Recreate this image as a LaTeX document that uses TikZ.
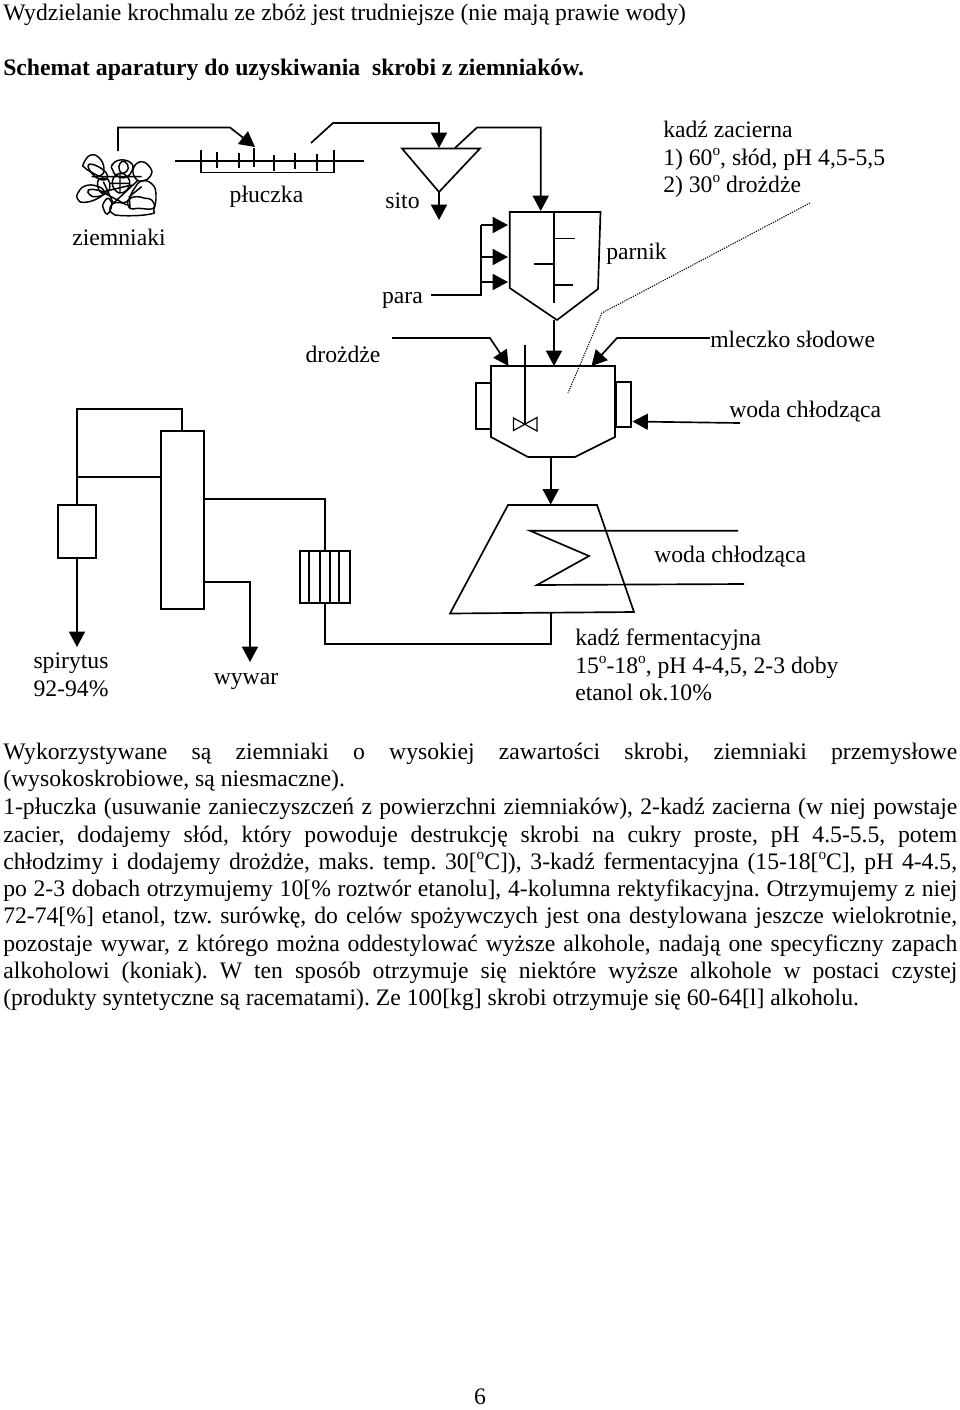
\documentclass[tikz,border=0pt]{standalone}
\usepackage{fontspec}
\setmainfont{Liberation Serif}
\usetikzlibrary{arrows.meta}
\frenchspacing
\newcommand{\stp}{\raisebox{0.42em}{\fontsize{11.5pt}{11.5pt}\selectfont o}}
\newcommand{\jl}[1]{\hbox to 715.5pt{#1}}
\tikzset{
  ln/.style={line width=1.25pt,line join=miter},
  flow/.style={ln,-{Triangle[length=11.5pt,width=12pt]}},
  lbl/.style={anchor=base,inner sep=0pt,font=\fontsize{17.75pt}{21pt}\selectfont},
  lblw/.style={anchor=base west,inner sep=0pt,font=\fontsize{17.75pt}{21pt}\selectfont},
  scribble/.style={line width=1.1pt,smooth cycle,tension=0.8},
  dots/.style={line width=0.8pt,dash pattern=on 0.9pt off 0.9pt}
}
\begin{document}
\begin{tikzpicture}[x=0.75pt,y=-0.75pt]
\useasboundingbox (0,0) rectangle (960,1410);
% heading
\node[lblw] (t1) at (3,20) {Wydzielanie krochmalu ze zbóż jest trudniejsze (nie mają prawie wody)};
\node[lblw,font=\fontsize{17.75pt}{21pt}\selectfont\bfseries] (t2) at (3,75) {Schemat aparatury do uzyskiwania\ \ skrobi z ziemniaków.};
% potatoes
\begin{scope}[shift={(70,140)},x=0.25pt,y=-0.25pt]
\draw[scribble] plot coordinates {(40,72)(60,46)(87,53)(102,85)(92,107)(65,97)(43,82)};
\draw[scribble] plot coordinates {(55,75)(85,80)(112,105)(100,120)(70,105)};
\draw[scribble] plot coordinates {(126,75)(150,60)(182,68)(187,90)(167,112)(140,107)(128,90)};
\draw[scribble] plot coordinates {(150,70)(165,65)(175,85)(160,100)(148,90)};
\draw[scribble] plot coordinates {(190,85)(215,65)(242,85)(242,107)(222,122)(198,117)};
\draw[scribble] plot coordinates {(23,160)(45,138)(80,138)(102,155)(80,177)(40,187)(23,177)};
\draw[scribble] plot coordinates {(55,150)(80,150)(105,160)(80,170)(60,165)};
\draw[scribble] plot coordinates {(123,217)(160,227)(242,222)(252,207)(258,165)(247,133)(215,123)(190,150)(170,185)(130,190)};
\draw[scribble] plot coordinates {(175,180)(200,170)(225,175)(245,180)(250,205)(205,205)(180,205)};
\draw[scribble] plot coordinates {(100,190)(115,175)(125,195)(112,222)(100,205)};
\draw[scribble] plot coordinates {(85,120)(115,120)(115,155)(90,155)};
\draw[scribble] plot coordinates {(128,120)(148,100)(172,110)(178,135)(160,158)(135,150)};
\draw[line width=1.1pt] (65,110)--(215,110) (100,155)--(185,135) (130,190)--(205,120) (100,125)--(130,190) (150,100)--(150,160) (120,130)--(178,130) (105,160)--(170,195) (180,205)--(178,170)--(215,140);
\end{scope}
% named ends
\coordinate (potOut) at (118,151);
\coordinate (potB1) at (118,127.5);
\coordinate (potB2) at (230,127.5);
\coordinate (plIn) at (255,147);
\coordinate (plOut) at (311,143);
\coordinate (plB1) at (333,123);
\coordinate (plB2) at (439,123);
\coordinate (sitoTop) at (439,148);
\coordinate (sitoTip) at (439,192);
\coordinate (sitoOut) at (439,220);
\coordinate (siOut) at (455,148);
\coordinate (siB1) at (477,127.5);
\coordinate (siB2) at (540.7,127.5);
\coordinate (parTop) at (540.7,211);
% pluczka
\draw[ln] (175,161)--(364,161);
\draw[ln] (201,150)--(201,172.5)--(334,172.5)--(334,150);
\foreach \x/\a/\b in {217/152/168,239/153/168,254/148/167,274/155/171,295/153/169,317/154/171}
  \draw[ln] (\x,\a)--(\x,\b);
\draw[flow] (potOut)--(potB1)--(potB2)--(plIn);
\draw[flow] (plOut)--(plB1)--(plB2)--(sitoTop);
% sito
\draw[ln] (402,148.5)--(480,148.5)--(sitoTip)--cycle;
\draw[flow] (sitoTip)--(sitoOut);
\draw[flow] (siOut)--(siB1)--(siB2)--(parTop);
% parnik
\draw[ln] (509.7,212)--(600.5,212)--(598,289)--(557,320)--(509.7,288)--cycle;
\draw[ln] (554,212)--(554,303);
\draw[ln] (554,238.5)--(574.7,238.5) (534,264)--(554,264) (554,285)--(573,285);
% para
\coordinate (paraS) at (431,295);
\coordinate (paraB) at (481,295);
\coordinate (p1) at (481,225); \coordinate (p1e) at (508,225);
\coordinate (p2) at (481,257); \coordinate (p2e) at (508,257);
\coordinate (p3) at (481,282); \coordinate (p3e) at (508,282);
\draw[ln] (paraS)--(paraB)--(p1);
\draw[flow] (p1)--(p1e);
\draw[flow] (p2)--(p2e);
\draw[flow] (p3)--(p3e);
% fermenter feed
\coordinate (parOut) at (554,320);
\coordinate (kzIn) at (554,366);
\draw[flow] (parOut)--(kzIn);
\coordinate (drS) at (392,338); \coordinate (drB) at (490,338); \coordinate (drE) at (508.5,366);
\draw[flow] (drS)--(drB)--(drE);
\coordinate (mlS) at (710,338); \coordinate (mlB) at (617,338); \coordinate (mlE) at (591.5,366);
\draw[flow] (mlS)--(mlB)--(mlE);
% dotted leader
\coordinate (lead1) at (810,203); \coordinate (lead2) at (602,313); \coordinate (lead3) at (568,393);
\draw[dots] (lead1)--(lead2)--(lead3);
% kadz zacierna
\draw[ln] (491,366)--(615,366)--(615,437)--(575,457)--(528,457)--(491,437)--cycle;
\draw[ln] (491,383)--(475.7,383)--(475.7,429)--(491,429);
\draw[ln] (616,382)--(631,382)--(631,427)--(616,427)--cycle;
\draw[ln] (525,345)--(525,424);
\draw[line width=0.9pt] (513.5,418)--(537,431)--(537,417.5)--(513.5,430.5)--cycle;
\coordinate (wS) at (740,423); \coordinate (wE) at (632.5,421.5);
\draw[flow] (wS)--(wE);
\coordinate (kzOut) at (550.7,457); \coordinate (kfIn) at (550.7,504.5);
\draw[flow] (kzOut)--(kfIn);
% kadz fermentacyjna
\draw[ln] (508,505)--(597,505)--(634,612)--(450,613.5)--cycle;
\draw[ln] (738,530.7)--(530,530.7)--(589,556)--(537,585)--(744,584);
% transfer
\coordinate (kfOut) at (550.7,613);
\coordinate (tr1) at (550.7,644);
\coordinate (tr2) at (324.7,644);
\coordinate (hxB) at (324.7,603);
\draw[ln] (kfOut)--(tr1)--(tr2)--(hxB);
% heat exchanger
\draw[ln] (300,551) rectangle (350,602.7);
\foreach \x in {309.3,320.3,329.7,339.3} \draw[ln] (\x,551)--(\x,603.5);
% column
\draw[ln] (160.7,430.7) rectangle (203.7,609.3);
\coordinate (hxT) at (324.7,551);
\coordinate (colR) at (203.7,499.3);
\coordinate (colRb) at (324.7,499.3);
\draw[ln] (colR)--(colRb)--(hxT);
\coordinate (colT) at (181.7,430.7); \coordinate (lpR) at (181.7,408.7); \coordinate (lpL) at (77,408.7);
\coordinate (cdT) at (77,505.3); \coordinate (brL) at (77,476.7); \coordinate (brR) at (160.7,476.7);
\draw[ln] (colT)--(lpR)--(lpL)--(cdT);
\draw[ln] (brL)--(brR);
\draw[ln] (58.3,505.3) rectangle (95.7,558);
\coordinate (cdB) at (77,558); \coordinate (spE) at (77,647);
\draw[flow] (cdB)--(spE);
\coordinate (wy1) at (203.7,582.3); \coordinate (wy2) at (250,582.3); \coordinate (wyE) at (250,662);
\draw[flow] (wy1)--(wy2)--(wyE);
% diagram labels
\node[lbl] (lz) at (119,245) {ziemniaki};
\node[lbl] (lp) at (266.5,202) {płuczka};
\node[lbl] (ls) at (402.5,208) {sito};
\node[lbl] (lpa) at (402.5,303) {para};
\node[lbl] (ld) at (343,362) {drożdże};
\node[lblw] (lpk) at (606,259) {parnik};
\node[lblw] (kz1) at (663,137) {kadź zacierna};
\node[lblw] (kz2) at (663,165) {1) 60\stp, słód, pH 4,5-5,5};
\node[lblw] (kz3) at (663,192) {2) 30\stp\ drożdże};
\node[lblw] (lm) at (710,347) {mleczko słodowe};
\node[lblw] (lw1) at (729,417) {woda chłodząca};
\node[lblw] (lw2) at (654,562) {woda chłodząca};
\node[lbl] (lsp) at (71,668) {spirytus};
\node[lbl] (lsp2) at (71,696) {92-94\%};
\node[lbl] (lwy) at (246,684) {wywar};
\node[lblw] (kf1) at (575,645) {kadź fermentacyjna};
\node[lblw] (kf2) at (575,673) {15\stp-18\stp, pH 4-4,5, 2-3 doby};
\node[lblw] (kf3) at (575,700) {etanol ok.10\%};
% body
\node[lblw] (b1) at (3,759) {\jl{Wykorzystywane są ziemniaki o wysokiej zawartości skrobi, ziemniaki przemysłowe}};
\node[lblw] (b2) at (3,786.3) {(wysokoskrobiowe, są niesmaczne).};
\node[lblw] (b3) at (3,814) {\jl{1-płuczka (usuwanie zanieczyszczeń z powierzchni ziemniaków), 2-kadź zacierna (w niej powstaje}};
\node[lblw] (b4) at (3,842) {\jl{zacier, dodajemy słód, który powoduje destrukcję skrobi na cukry proste, pH 4.5-5.5, potem}};
\node[lblw] (b5) at (3,869) {\jl{chłodzimy i dodajemy drożdże, maks. temp. 30[\stp C]), 3-kadź fermentacyjna (15-18[\stp C], pH 4-4.5,}};
\node[lblw] (b6) at (3,896.5) {\jl{po 2-3 dobach otrzymujemy 10[\% roztwór etanolu], 4-kolumna rektyfikacyjna. Otrzymujemy z niej}};
\node[lblw] (b7) at (3,923.5) {\jl{72-74[\%] etanol, tzw. surówkę, do celów spożywczych jest ona destylowana jeszcze wielokrotnie,}};
\node[lblw] (b8) at (3,951) {\jl{pozostaje wywar, z którego można oddestylować wyższe alkohole, nadają one specyficzny zapach}};
\node[lblw] (b9) at (3,978) {\jl{alkoholowi (koniak). W ten sposób otrzymuje się niektóre wyższe alkohole w postaci czystej}};
\node[lblw] (b10) at (3,1005) {(produkty syntetyczne są racematami). Ze 100[kg] skrobi otrzymuje się 60-64[l] alkoholu.};
\node[lbl] (pg) at (480,1404.5) {6};
\end{tikzpicture}
\end{document}
